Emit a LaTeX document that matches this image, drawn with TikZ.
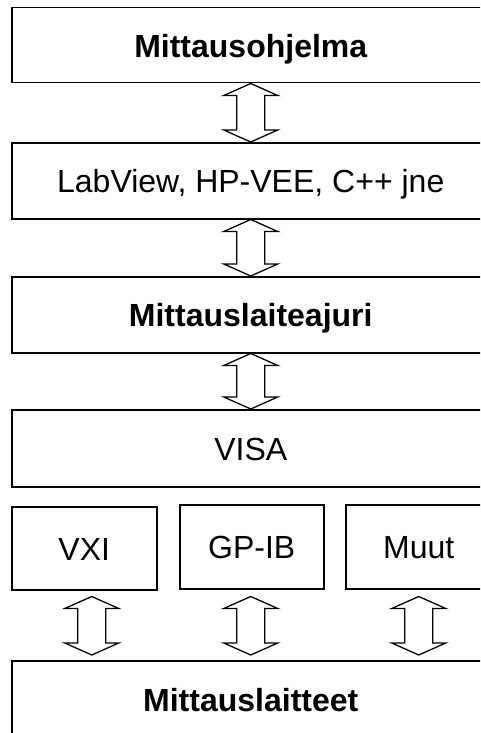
\documentclass[tikz,border=0pt]{standalone}
\usepackage{fontspec}
\setmainfont{Liberation Sans}
\usetikzlibrary{calc}
\tikzset{
  box/.style={draw, line width=1.5pt, inner sep=0pt, text height=24pt, text depth=0pt,
    font=\fontsize{32}{38}\selectfont, anchor=north west},
  bbox/.style={box, font=\fontsize{32}{38}\selectfont\bfseries},
  dbl/.style={draw, line width=1.3pt, line join=miter, fill=white}
}
\newcommand\dblarrow[2]{%
  \draw[dbl] let \p1=#1, \p2=#2 in
    (\x1,\y1) -- ({\x1+27pt},{\y1-12pt}) -- ({\x1+14pt},{\y1-12pt})
    -- ({\x1+14pt},{\y2+12pt}) -- ({\x1+27pt},{\y2+12pt}) -- (\x1,\y2)
    -- ({\x1-27pt},{\y2+12pt}) -- ({\x1-14pt},{\y2+12pt})
    -- ({\x1-14pt},{\y1-12pt}) -- ({\x1-27pt},{\y1-12pt}) -- cycle;}
\begin{document}
\begin{tikzpicture}[x=1pt,y=-1pt]
  \useasboundingbox (0,0) rectangle (480,733);
  \fill[white] (0,0) rectangle (480,733);
  \clip (0,0) rectangle (480,733);
  \node[bbox, minimum width=478pt, minimum height=75pt] (b1) at (11,7) {Mittausohjelma};
  \node[box, minimum width=478pt, minimum height=76pt] (b2) at (11,142) {LabView, HP-VEE, C++ jne};
  \node[bbox, minimum width=478pt, minimum height=76pt] (b3) at (11,276) {Mittauslaiteajuri};
  \node[box, minimum width=478pt, minimum height=77pt] (b4) at (11,409) {VISA};
  \node[box, minimum width=145pt, minimum height=83pt] (vxi) at (11,506) {VXI};
  \node[box, minimum width=144pt, minimum height=84pt] (gpib) at (179,504) {GP-IB};
  \node[box, minimum width=146pt, minimum height=84pt] (muut) at (345,504) {Muut};
  \node[bbox, minimum width=478pt, minimum height=78pt] (bot) at (11,660) {Mittauslaitteet};
  \dblarrow{(b1.south)}{(b2.north)}
  \dblarrow{(b2.south)}{(b3.north)}
  \dblarrow{(b3.south)}{(b4.north)}
  \dblarrow{($(vxi.south)+(7.5,6)$)}{($(bot.north -| vxi.south)+(7.5,-5)$)}
  \dblarrow{($(gpib.south)+(-1,7)$)}{($(bot.north -| gpib.south)+(-1,-5)$)}
  \dblarrow{($(muut.south)+(0,7)$)}{($(bot.north -| muut.south)+(0,-5)$)}
\end{tikzpicture}
\end{document}
